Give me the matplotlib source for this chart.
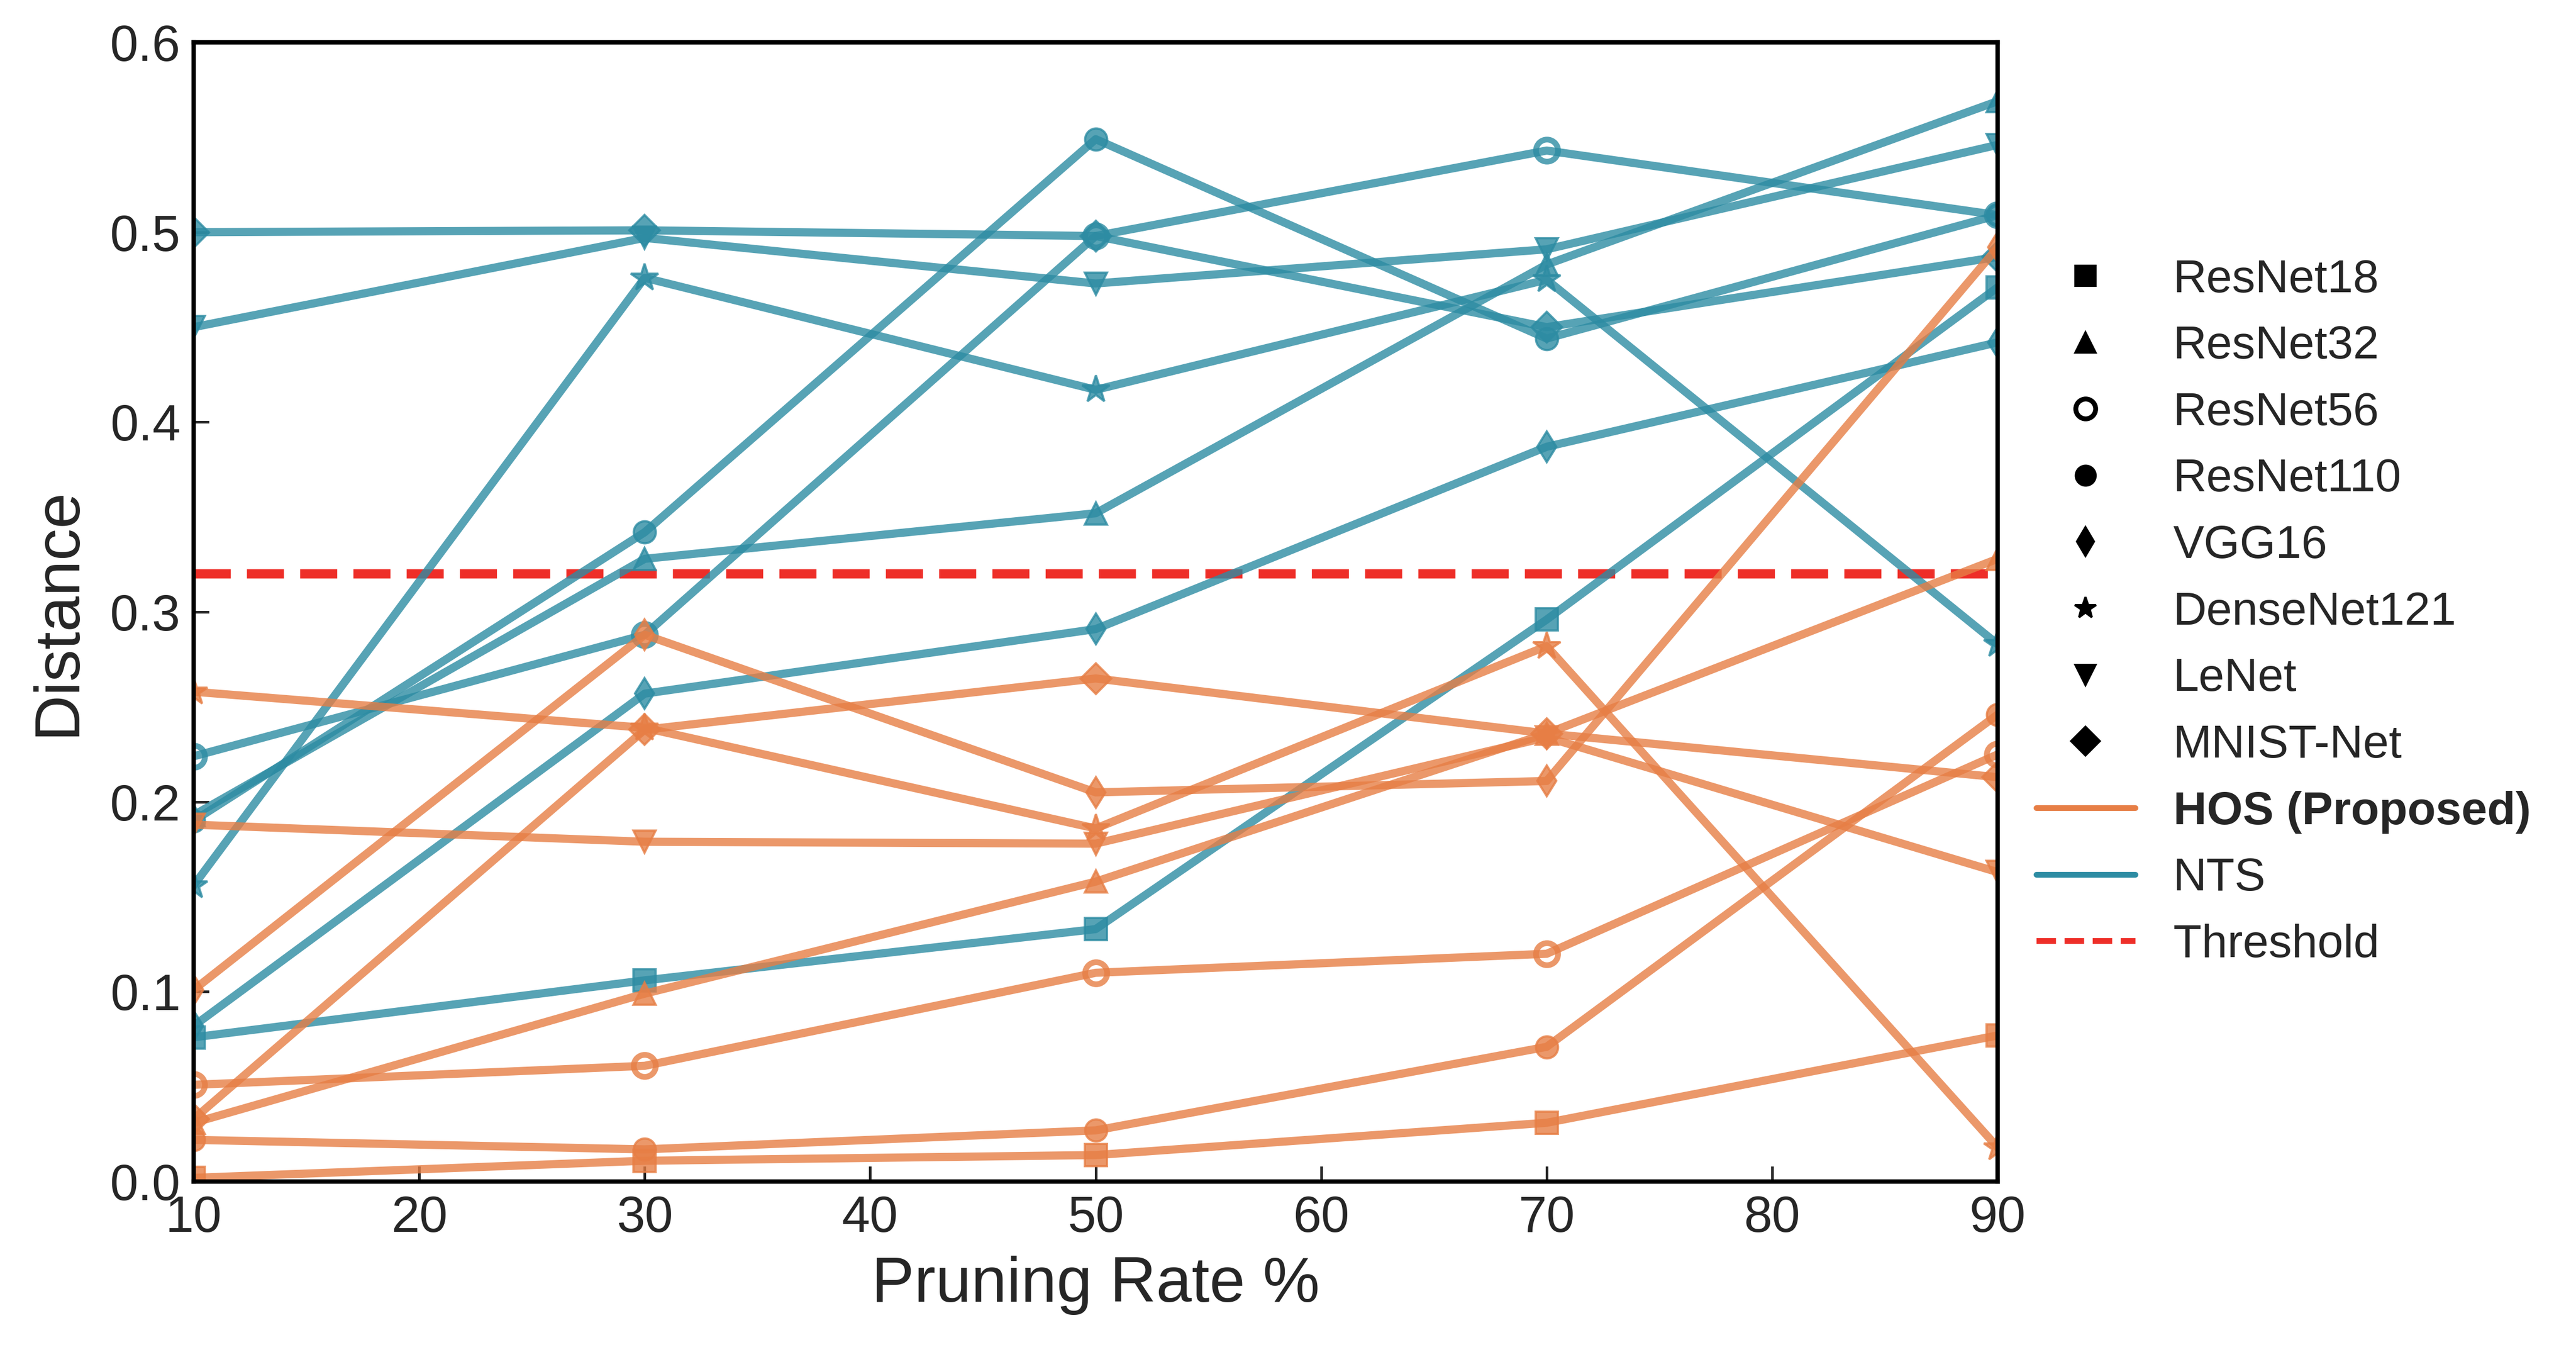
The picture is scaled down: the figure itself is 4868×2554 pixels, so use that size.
import matplotlib
matplotlib.use('Agg')
import matplotlib.pyplot as plt
from matplotlib.lines import Line2D

plt.rcParams['font.family'] = ['Liberation Sans', 'DejaVu Sans']

# ---------------- data ----------------
rates = [10, 30, 50, 70, 90]
models = ['ResNet18', 'ResNet32', 'ResNet56', 'ResNet110',
          'VGG16', 'DenseNet121', 'LeNet', 'MNIST-Net']
model_markers = ['s', '^', 'o', 'o', 'd', '*', 'v', 'D']
model_hollow = [False, False, True, False, False, False, False, False]

# HOS (Proposed)
hos_resnet18 = [0.002, 0.011, 0.014, 0.031, 0.077]
hos_resnet32 = [0.031, 0.099, 0.158, 0.236, 0.328]
hos_resnet56 = [0.051, 0.061, 0.110, 0.120, 0.225]
hos_resnet110 = [0.022, 0.017, 0.027, 0.071, 0.246]
hos_vgg16 = [0.101, 0.288, 0.205, 0.211, 0.492]
hos_densenet121 = [0.258, 0.239, 0.186, 0.282, 0.018]
hos_lenet = [0.188, 0.179, 0.178, 0.234, 0.163]
hos_mnistnet = [0.033, 0.238, 0.265, 0.236, 0.213]

# NTS
nts_resnet18 = [0.076, 0.106, 0.133, 0.296, 0.471]
nts_resnet32 = [0.193, 0.328, 0.352, 0.483, 0.569]
nts_resnet56 = [0.224, 0.288, 0.498, 0.543, 0.509]
nts_resnet110 = [0.190, 0.342, 0.549, 0.444, 0.509]
nts_vgg16 = [0.082, 0.257, 0.291, 0.387, 0.442]
nts_densenet121 = [0.156, 0.476, 0.417, 0.475, 0.283]
nts_lenet = [0.450, 0.497, 0.473, 0.491, 0.546]
nts_mnistnet = [0.500, 0.501, 0.498, 0.450, 0.487]

threshold = 0.32

hos_series = [hos_resnet18, hos_resnet32, hos_resnet56, hos_resnet110,
              hos_vgg16, hos_densenet121, hos_lenet, hos_mnistnet]
nts_series = [nts_resnet18, nts_resnet32, nts_resnet56, nts_resnet110,
              nts_vgg16, nts_densenet121, nts_lenet, nts_mnistnet]

hos_color = '#E77E45'
nts_color = '#2D8CA3'
thr_color = '#EE2E28'
text_color = '#262626'

# ---------------- figure ----------------
fig = plt.figure(figsize=(4868 / 300, 2554 / 300), dpi=300)
ax = fig.add_axes([0.0752, 0.126, 0.7003, 0.8427])

ax.axhline(threshold, color=thr_color, lw=4.2, ls=(0, (4.0, 1.75)), zorder=1)

def draw(series, color):
    for vals, mk, hol in zip(series, model_markers, model_hollow):
        ms = 13 if mk == '*' else 10
        ax.plot(rates, vals, color=color, lw=3.7, alpha=0.8,
                marker=mk, markersize=ms,
                markerfacecolor='none' if hol else color,
                markeredgecolor=color,
                markeredgewidth=2.6 if hol else 1.0, zorder=2)

draw(nts_series, nts_color)
draw(hos_series, hos_color)

ax.set_xlim(10, 90)
ax.set_ylim(0.0, 0.6)
ax.set_xticks(range(10, 91, 10))
ax.set_yticks([0.0, 0.1, 0.2, 0.3, 0.4, 0.5, 0.6])
ax.set_yticklabels(['0.0', '0.1', '0.2', '0.3', '0.4', '0.5', '0.6'])
ax.tick_params(axis='both', direction='in', length=7, width=1.2,
               labelsize=23, colors=text_color, pad=6,
               top=False, right=False)
for sp in ax.spines.values():
    sp.set_linewidth(2.0)
    sp.set_color('black')

ax.set_xlabel('Pruning Rate %', fontsize=29, color=text_color, labelpad=6)
ax.set_ylabel('Distance', fontsize=29, color=text_color, labelpad=10)

# ---------------- legend ----------------
handles = []
for name, mk, hol in zip(models, model_markers, model_hollow):
    handles.append(Line2D([], [], ls='none', marker=mk,
                          markersize=9 if mk != '*' else 10,
                          markerfacecolor='white' if hol else 'black',
                          markeredgecolor='black',
                          markeredgewidth=2.2 if hol else 1.0,
                          label=name))
handles.append(Line2D([], [], color=hos_color, lw=2.6, solid_capstyle='round',
                      label='HOS (Proposed)'))
handles.append(Line2D([], [], color=nts_color, lw=2.6, solid_capstyle='round',
                      label='NTS'))
handles.append(Line2D([], [], color=thr_color, lw=2.6, ls=(0, (3.4, 1.5)),
                      label='Threshold'))

leg = ax.legend(handles=handles, loc='center left',
                bbox_to_anchor=(1.011, 0.4995), frameon=False,
                fontsize=21, handlelength=2.14, handletextpad=0.82,
                labelspacing=0.51, borderaxespad=0)
for t in leg.get_texts():
    t.set_color(text_color)
leg.get_texts()[8].set_fontweight('bold')

fig.savefig('out.png', dpi=300)
